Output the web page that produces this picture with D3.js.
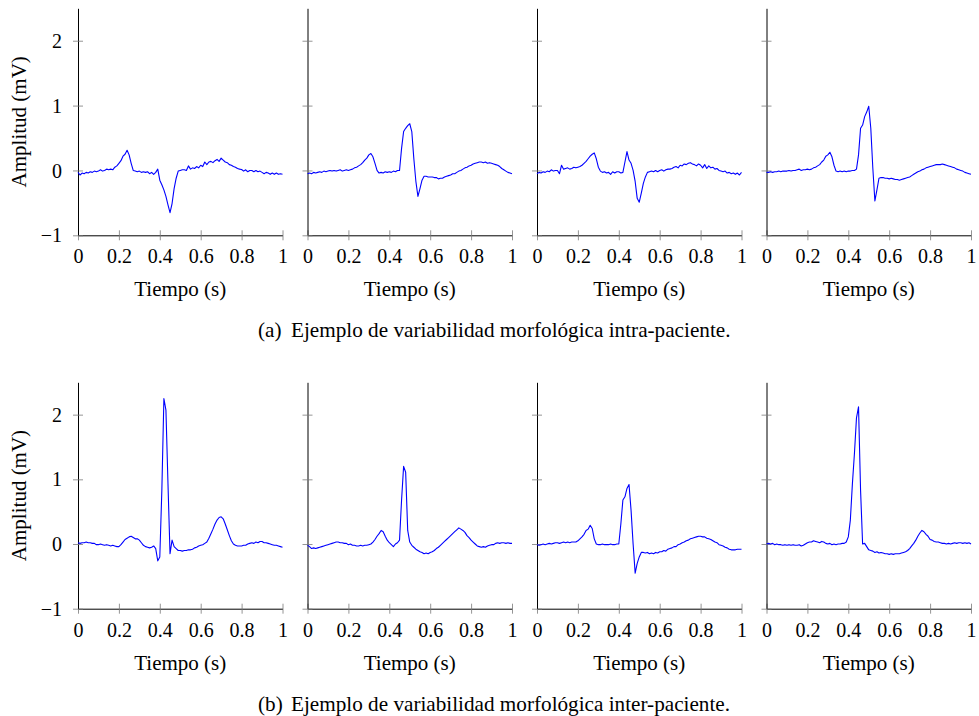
<!DOCTYPE html>
<html>
<head>
<meta charset="utf-8">
<script src="https://cdn.jsdelivr.net/npm/d3@7/dist/d3.min.js"></script>
<style>
  body { margin: 0; background: #fff; }
  svg { display: block; }
  text { font-family: "Liberation Serif", "Times New Roman", serif; fill: #000; }
</style>
</head>
<body>
<svg id="chart" width="979" height="716"></svg>
<script>
// Sample instants of every beat: 0 … 1 s, one sample every 10 ms
const sampleTimes = d3.range(101).map(i => i / 100);

const xTicks = [0, 0.2, 0.4, 0.6, 0.8, 1];
const xTickLabels = ["0", "0.2", "0.4", "0.6", "0.8", "1"];
const yTicks = [-1, 0, 1, 2];
const yTickLabels = ["\u22121", "0", "1", "2"];

// (a) beats of one patient (mV)
const intraBeat1 = [-0.03,-0.07,-0.04,-0.05,-0.03,-0.04,-0.02,-0.03,-0.01,-0.02,
  -0.01,0.01,-0.01,0.00,0.02,0.01,0.02,0.01,0.05,0.07,
  0.11,0.15,0.22,0.25,0.31,0.24,0.11,0.00,-0.01,-0.02,
  -0.01,-0.03,-0.02,-0.03,-0.02,-0.05,-0.03,-0.06,-0.03,0.02,
  -0.15,-0.22,-0.30,-0.40,-0.53,-0.65,-0.51,-0.28,-0.12,-0.01,
  0.00,0.01,0.01,0.00,0.07,0.02,0.04,0.03,0.06,0.04,
  0.08,0.06,0.13,0.09,0.13,0.14,0.12,0.15,0.17,0.14,
  0.19,0.16,0.13,0.12,0.09,0.08,0.06,0.05,0.03,0.02,
  0.015,-0.01,0.01,-0.02,0.00,0.00,-0.02,0.00,-0.02,-0.01,
  -0.03,-0.05,-0.03,-0.04,-0.06,-0.04,-0.06,-0.04,-0.06,-0.05,-0.06];
const intraBeat2 = [-0.05,-0.04,-0.05,-0.03,-0.04,-0.03,-0.02,-0.03,-0.01,-0.02,
  -0.01,0.00,-0.01,0.00,-0.01,0.00,0.01,-0.01,0.00,0.01,
  0.00,0.01,0.02,0.04,0.05,0.07,0.09,0.12,0.16,0.19,
  0.24,0.26,0.21,0.11,0.00,-0.04,-0.03,-0.04,-0.02,-0.03,
  -0.02,-0.03,-0.01,-0.02,0.00,0.00,0.34,0.60,0.65,0.69,
  0.72,0.60,0.18,-0.17,-0.40,-0.28,-0.15,-0.09,-0.09,-0.10,
  -0.10,-0.10,-0.11,-0.11,-0.13,-0.12,-0.12,-0.10,-0.09,-0.08,
  -0.07,-0.05,-0.05,-0.03,-0.01,0.00,0.02,0.04,0.05,0.07,
  0.08,0.10,0.11,0.12,0.13,0.13,0.12,0.13,0.11,0.12,
  0.11,0.10,0.09,0.08,0.06,0.03,0.01,-0.01,-0.03,-0.04,-0.05];
const intraBeat3 = [-0.05,-0.03,-0.04,-0.02,-0.03,-0.01,-0.02,0.01,-0.01,0.00,
  0.00,-0.05,0.08,0.02,0.03,0.04,0.02,0.03,0.05,0.04,
  0.05,0.06,0.08,0.11,0.14,0.18,0.22,0.25,0.27,0.18,
  0.05,-0.01,-0.03,-0.02,-0.04,-0.03,-0.06,-0.02,-0.04,-0.02,
  -0.02,-0.04,-0.03,0.13,0.29,0.16,0.11,0.00,-0.17,-0.43,
  -0.49,-0.35,-0.20,-0.10,-0.03,-0.02,-0.01,-0.02,0.00,-0.02,
  0.00,0.01,-0.01,0.01,0.02,0.02,0.03,0.05,0.06,0.04,
  0.08,0.07,0.10,0.09,0.11,0.12,0.10,0.09,0.07,0.10,
  0.08,0.04,0.09,0.03,0.07,0.04,0.05,0.02,0.03,0.00,
  -0.01,-0.02,-0.01,-0.04,-0.03,-0.05,-0.04,-0.06,-0.04,-0.07,-0.03];
const intraBeat4 = [-0.03,-0.03,-0.02,-0.03,-0.02,-0.02,-0.01,-0.02,-0.01,-0.01,
  -0.01,0.00,-0.01,0.00,0.00,0.01,0.02,0.00,0.01,0.01,
  0.02,0.01,0.02,0.04,0.05,0.07,0.09,0.13,0.16,0.22,
  0.24,0.28,0.21,0.08,-0.01,-0.02,-0.01,-0.02,-0.01,-0.02,
  -0.01,-0.01,0.00,0.00,0.02,0.24,0.65,0.70,0.83,0.90,
  0.99,0.65,0.03,-0.47,-0.30,-0.12,-0.11,-0.11,-0.12,-0.12,
  -0.13,-0.12,-0.13,-0.14,-0.14,-0.15,-0.14,-0.13,-0.12,-0.11,
  -0.10,-0.08,-0.06,-0.04,-0.02,-0.01,0.01,0.02,0.04,0.05,
  0.06,0.07,0.08,0.09,0.09,0.09,0.10,0.09,0.08,0.07,
  0.06,0.05,0.04,0.02,0.01,0.00,-0.01,-0.03,-0.04,-0.05,-0.06];

// (b) beats of four different patients (mV)
const interBeat1 = [0.02,0.01,0.02,0.02,0.03,0.02,0.02,0.01,0.01,-0.01,
  -0.01,0.00,-0.01,-0.02,-0.01,-0.02,-0.03,-0.02,-0.03,-0.04,
  -0.04,-0.01,0.03,0.07,0.09,0.11,0.12,0.10,0.08,0.08,
  0.06,0.02,-0.02,-0.04,-0.05,-0.06,-0.05,-0.03,-0.07,-0.26,
  -0.20,0.83,2.25,2.07,0.93,-0.15,0.06,-0.04,-0.07,-0.10,
  -0.10,-0.11,-0.10,-0.10,-0.09,-0.09,-0.08,-0.06,-0.05,-0.03,
  -0.02,-0.01,0.01,0.03,0.09,0.16,0.23,0.31,0.37,0.41,
  0.42,0.39,0.31,0.22,0.13,0.05,0.00,-0.02,-0.03,-0.03,
  -0.03,-0.02,-0.02,0.00,0.01,0.02,0.01,0.03,0.02,0.04,
  0.04,0.02,0.02,0.01,0.00,-0.01,-0.02,-0.02,-0.03,-0.04,-0.05];
const interBeat2 = [-0.02,-0.04,-0.07,-0.06,-0.07,-0.06,-0.05,-0.04,-0.03,-0.02,
  -0.01,0.00,0.01,0.02,0.03,0.03,0.02,0.02,0.01,0.01,
  -0.01,0.00,-0.02,-0.02,-0.03,-0.03,-0.02,-0.03,-0.02,-0.02,
  -0.01,0.00,0.03,0.07,0.12,0.16,0.21,0.19,0.12,0.06,
  0.02,-0.01,-0.04,0.00,0.02,0.06,0.68,1.20,1.11,0.21,
  0.03,-0.02,-0.05,-0.08,-0.10,-0.12,-0.13,-0.15,-0.14,-0.15,
  -0.13,-0.12,-0.10,-0.07,-0.05,-0.02,0.01,0.04,0.07,0.10,
  0.13,0.16,0.19,0.22,0.25,0.23,0.21,0.18,0.13,0.10,
  0.06,0.03,0.00,-0.03,-0.04,-0.05,-0.04,-0.05,-0.03,-0.02,
  -0.01,-0.01,0.01,0.02,0.01,0.02,0.02,0.01,0.02,0.01,0.01];
const interBeat3 = [-0.01,-0.02,-0.01,0.00,-0.01,0.00,0.01,0.00,0.01,0.02,
  0.02,0.01,0.02,0.03,0.02,0.03,0.02,0.03,0.03,0.03,
  0.05,0.08,0.11,0.15,0.21,0.23,0.29,0.24,0.08,0.00,
  -0.01,-0.01,0.00,-0.01,-0.01,-0.01,0.00,-0.01,-0.01,0.00,
  0.00,0.31,0.68,0.73,0.86,0.92,0.52,0.00,-0.45,-0.30,
  -0.20,-0.13,-0.13,-0.14,-0.13,-0.15,-0.14,-0.15,-0.13,-0.14,
  -0.12,-0.12,-0.10,-0.11,-0.08,-0.07,-0.06,-0.04,-0.04,-0.01,
  0.00,0.02,0.03,0.05,0.06,0.08,0.09,0.10,0.11,0.12,
  0.12,0.11,0.11,0.09,0.08,0.07,0.05,0.03,0.02,-0.01,
  -0.02,-0.03,-0.05,-0.06,-0.08,-0.09,-0.09,-0.09,-0.08,-0.08,-0.08];
const interBeat4 = [0.00,0.01,0.00,0.01,-0.01,0.00,-0.01,-0.01,-0.02,-0.01,
  -0.02,-0.01,-0.02,-0.01,-0.02,-0.02,-0.01,-0.03,-0.02,0.00,
  0.02,0.03,0.03,0.05,0.04,0.03,0.02,0.04,0.03,0.01,
  0.00,0.01,-0.01,0.00,-0.01,0.00,0.00,0.01,0.01,0.03,
  0.11,0.37,0.93,1.40,1.95,2.12,0.83,0.00,0.01,-0.04,
  -0.09,-0.10,-0.11,-0.13,-0.12,-0.14,-0.13,-0.14,-0.15,-0.15,
  -0.16,-0.15,-0.16,-0.15,-0.15,-0.15,-0.14,-0.13,-0.12,-0.10,
  -0.07,-0.03,0.01,0.06,0.12,0.17,0.21,0.19,0.15,0.12,
  0.07,0.06,0.04,0.03,0.03,0.02,0.01,0.01,0.00,0.01,
  0.00,0.01,0.02,0.01,0.02,0.02,0.01,0.02,0.01,0.02,0.00];

const captionLabels = ["(a)", "(b)"];
const captionTexts = [
  "Ejemplo de variabilidad morfológica intra-paciente.",
  "Ejemplo de variabilidad morfológica inter-paciente."
];
const xAxisTitle = "Tiempo (s)";
const yAxisTitle = "Amplitud (mV)";

const rows = [
  { beats: [intraBeat1, intraBeat2, intraBeat3, intraBeat4], top: 8.3, bottom: 235.3, captionY: 337 },
  { beats: [interBeat1, interBeat2, interBeat3, interBeat4], top: 382.3, bottom: 608.7, captionY: 711 }
];

const panelLeft0 = 78, panelStep = 229.5, panelWidth = 204.5;
const svg = d3.select("#chart");

rows.forEach((row, r) => {
  const y = d3.scaleLinear().domain([-1, 2.5]).range([row.bottom, row.top]);

  row.beats.forEach((beat, c) => {
    const left = panelLeft0 + c * panelStep;
    const x = d3.scaleLinear().domain([0, 1]).range([0, panelWidth]);
    const g = svg.append("g").attr("transform", `translate(${left},0)`);

    // x axis with ticks centred on the axis line
    const gx = g.append("g")
      .attr("transform", `translate(0,${row.bottom})`)
      .call(d3.axisBottom(x).tickValues(xTicks)
        .tickFormat((d, i) => xTickLabels[i]).tickSizeOuter(0));
    gx.select(".domain").attr("stroke", "#000").attr("stroke-width", 1);
    gx.selectAll(".tick line").attr("y1", -5).attr("y2", 5)
      .attr("stroke", "#7a7a7a").attr("stroke-width", 0.8);
    gx.selectAll(".tick text").attr("y", 28).attr("dy", 0)
      .style("font-size", "20px").style("font-family", "'Liberation Serif', serif");

    // y axis
    const gy = g.append("g")
      .call(d3.axisLeft(y).tickValues(yTicks)
        .tickFormat((d, i) => c === 0 ? yTickLabels[i] : "").tickSizeOuter(0));
    gy.select(".domain").attr("stroke", "#000").attr("stroke-width", 1);
    gy.selectAll(".tick line").attr("x1", -5).attr("x2", 5)
      .attr("stroke", "#7a7a7a").attr("stroke-width", 0.8);
    gy.selectAll(".tick text").attr("x", -16).attr("dy", "0.33em")
      .style("font-size", "20px").style("font-family", "'Liberation Serif', serif");

    // the beat itself
    const line = d3.line()
      .x((d, i) => x(sampleTimes[i]))
      .y(d => y(d));
    g.append("path")
      .datum(beat)
      .attr("fill", "none")
      .attr("stroke", "#0000ff")
      .attr("stroke-width", 1.1)
      .attr("stroke-linejoin", "round")
      .attr("d", line);

    // axis titles
    g.append("text")
      .attr("x", panelWidth / 2)
      .attr("y", row.bottom + 61)
      .attr("text-anchor", "middle")
      .style("font-size", "21px")
      .text(xAxisTitle);

    if (c === 0) {
      g.append("text")
        .attr("transform", `translate(${-52},${(row.top + row.bottom) / 2}) rotate(-90)`)
        .attr("text-anchor", "middle")
        .style("font-size", "21px")
        .text(yAxisTitle);
    }
  });

  // sub-figure caption
  const cap = svg.append("text")
    .attr("x", 258)
    .attr("y", row.captionY)
    .style("font-size", "21.2px");
  cap.append("tspan").text(captionLabels[r]);
  cap.append("tspan").attr("x", 291).text(captionTexts[r]);
});
</script>
</body>
</html>
